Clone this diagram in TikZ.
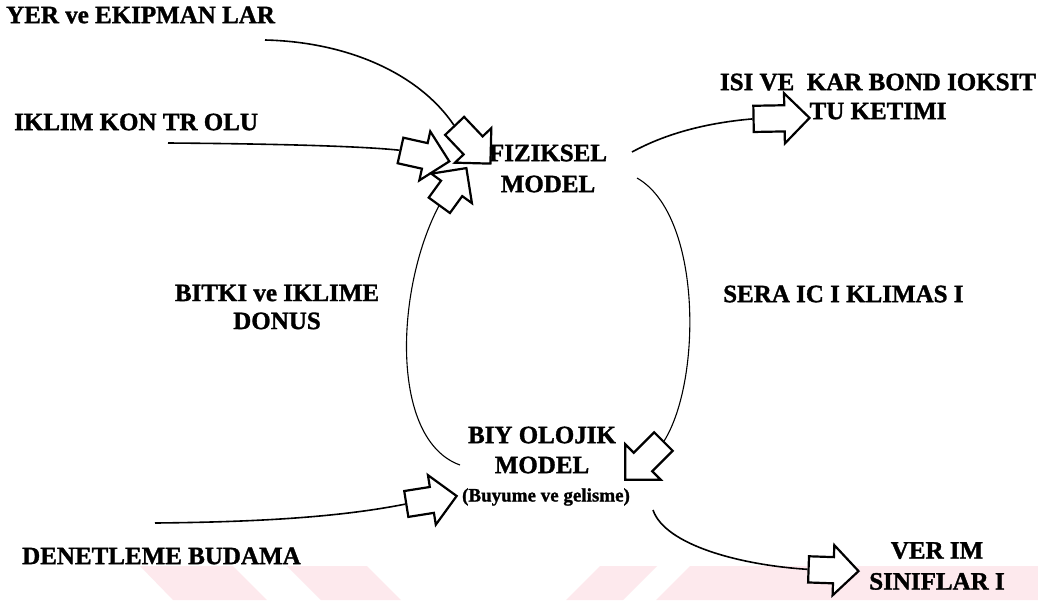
\documentclass[tikz,border=0pt]{standalone}
\usepackage{fontspec}
\setmainfont[BoldFeatures={FakeBold=1.3}]{Liberation Serif}
\usetikzlibrary{shapes.arrows}
\definecolor{wm}{RGB}{253,233,237}
\pgfdeclarelayer{bg}
\pgfsetlayers{bg,main}
\begin{document}
\begin{tikzpicture}[x=1pt,y=-1pt,
  lbl/.style={font=\fontsize{25}{25}\selectfont\bfseries, inner sep=0pt, align=center},
  small/.style={font=\fontsize{19}{19}\selectfont\bfseries, inner sep=0pt},
  conn/.style={line width=1.6pt},
  loopline/.style={line width=1.1pt},
  barrow/.style={single arrow, draw=black, line width=2.2pt, fill=white, inner sep=0pt,
    text width=0pt, text height=12pt, text depth=12pt,
    single arrow head extend=12pt, minimum height=52pt}]
\useasboundingbox (0,0) rectangle (1038,600);

% labels
\node[lbl, anchor=west] (yer) at (6,15) {YER ve EKIPMAN LAR};
\node[lbl, anchor=west] (ikl) at (14,122) {IKLIM KON TR OLU};
\node[lbl] (fiz) at (548,168.5) {FIZIKSEL\\[6pt]MODEL};
\node[lbl] (isi) at (878,96.5) {ISI VE\ \ KAR BOND IOKSIT\\[4pt]TU KETIMI};
\node[lbl] (bit) at (277,307) {BITKI ve IKLIME\\[3pt]DONUS};
\node[lbl, anchor=west] (sera) at (723,294) {SERA IC I KLIMAS I};
\node[lbl] (biy) at (542,450) {BIY OLOJIK\\[5pt]MODEL};
\node[small] (buy) at (546,497) {(Buyume ve gelisme)};
\node[lbl, anchor=west] (den) at (22,556) {DENETLEME BUDAMA};
\node[lbl] (ver) at (937,566) {VER IM\\[6pt]SINIFLAR I};

% free ends of connectors
\coordinate (yerS) at (265,40);
\coordinate (iklS) at (168,143);
\coordinate (denS) at (155,523);
\coordinate (fizR) at (632,152);
\coordinate (fizB) at (637,178);
\coordinate (biyL) at (460,465);
\coordinate (biyR) at (653,510);

% block arrows
\node[barrow, rotate=1, minimum height=56pt] (aISI) at (775,118.5) {};
\node[barrow, rotate=-2, minimum height=50pt] (aVER) at (827,570) {};
\node[barrow, rotate=9, minimum height=51pt] (aDEN) at (425,501) {};
\node[barrow, rotate=225, minimum height=54pt] (aBIY) at (649,456) {};
\node[barrow, rotate=-46.5] (aYER) at (468,140) {};
\node[barrow, rotate=-12.6, minimum height=50pt] (aIKL) at (418.5,154.5) {};
\node[barrow, rotate=54, minimum height=46pt] (aBOT) at (449,192) {};

\begin{pgfonlayer}{bg}
\fill[white] (0,0) rectangle (1038,600);
% watermark stripes
\fill[wm] (140,566) -- (233,566) -- (267,600) -- (173,600) -- cycle;
\fill[wm] (287,566) -- (367,566) -- (401,600) -- (321,600) -- cycle;
\fill[wm] (600,566) -- (657,566) -- (623,600) -- (566,600) -- cycle;
\fill[wm] (690,566) -- (1038,566) -- (1038,600) -- (656,600) -- cycle;
% connectors
\draw[conn] (yerS) .. controls (350,42) and (420,75) .. (aYER.tail);
\draw[conn] (iklS) .. controls (300,144) and (370,147) .. (aIKL.tail);
\draw[conn] (denS) .. controls (260,522) and (340,517) .. (aDEN.tail);
\draw[conn] (fizR) .. controls (665,134) and (705,123) .. (aISI.tail);
\draw[conn] (biyR) .. controls (665,545) and (740,565) .. (aVER.tail);
\draw[loopline] (biyL) .. controls (390,440) and (395,290) .. (aBOT.tail);
\draw[loopline] (fizB) .. controls (702,215) and (702,380) .. (aBIY.tail);
\end{pgfonlayer}
\end{tikzpicture}
\end{document}
